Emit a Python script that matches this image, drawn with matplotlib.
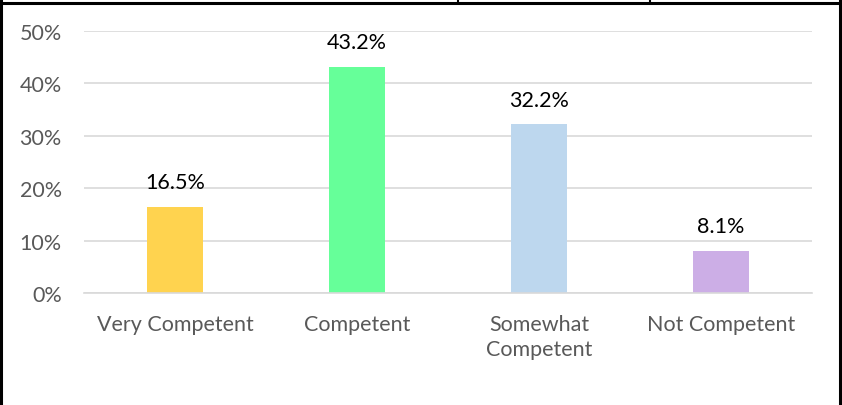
import matplotlib.pyplot as plt
from matplotlib.lines import Line2D

categories = ['Very Competent', 'Competent', 'Somewhat\nCompetent', 'Not Competent']
values = [16.5, 43.2, 32.2, 8.1]
colors = ['#FFD34F', '#66FF99', '#BDD7EE', '#CCAEE6']
yticks = [0, 10, 20, 30, 40, 50]

plt.rcParams['font.family'] = ['Lato', 'DejaVu Sans']

W, H = 842, 406
fig = plt.figure(figsize=(W / 100, H / 100), dpi=100)
ax = fig.add_axes([84 / W, 1 - 294 / H, (812 - 84) / W, (294 - 32) / H])

x = range(len(categories))
ax.bar(x, values, width=0.31, color=colors, zorder=2)
for i, v in enumerate(values):
    ax.text(i, v + 2.8, '%.1f%%' % v, ha='center', va='bottom', fontsize=15.5, color='black')

ax.set_xlim(-0.5, 3.5)
ax.set_ylim(0, 50)
ax.set_yticks(yticks)
ax.set_yticklabels(['%d%%' % t for t in yticks])
ax.set_xticks(list(x))
ax.set_xticklabels(categories, linespacing=1.35)
ax.tick_params(axis='both', length=0, labelsize=15.5, labelcolor='#595959')
ax.tick_params(axis='y', pad=16)
ax.tick_params(axis='x', pad=15)
ax.grid(axis='y', color='#D9D9D9', linewidth=1.2, zorder=0)
for s in ['top', 'right', 'left']:
    ax.spines[s].set_visible(False)
ax.spines['bottom'].set_color('#D9D9D9')
ax.spines['bottom'].set_linewidth(1.2)

# surrounding table border
def px_line(xs, ys, lw):
    fig.add_artist(Line2D([v / W for v in xs], [1 - v / H for v in ys],
                          color='black', linewidth=lw, transform=fig.transFigure))

px_line([0, W], [4, 4], 2.2)
px_line([1, 1], [0, H], 2.2)
px_line([839.5, 839.5], [0, H], 2.2)
px_line([458, 458], [0, 4], 1.5)
px_line([650, 650], [0, 4], 1.5)

fig.savefig('out.png', dpi=100)
